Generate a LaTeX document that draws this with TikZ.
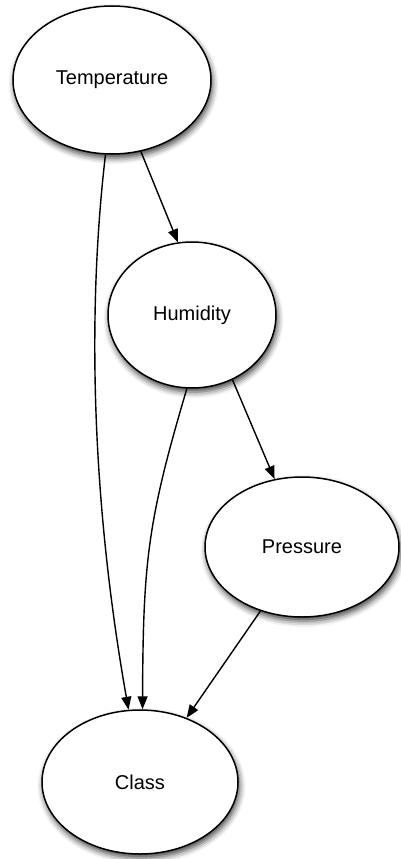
\documentclass[tikz,border=0pt]{standalone}
\usepackage{fontspec}
\setmainfont{Liberation Sans}
\usetikzlibrary{arrows.meta,shadows.blur,shapes.geometric}
\begin{document}
\begin{tikzpicture}[x=1pt,y=-1pt,
  var/.style={ellipse,draw=black,line width=1.5pt,fill=white,inner sep=0pt,
    blur shadow={shadow xshift=1.5pt,shadow yshift=-4pt,shadow blur radius=6pt,shadow opacity=75},
    font=\fontsize{20}{24}\selectfont},
  edge/.style={line width=1.4pt,-{Triangle[length=13pt,width=10pt]}}]
\useasboundingbox (0,0) rectangle (401,859);
\node[var,minimum width=198pt,minimum height=148pt] (temp) at (112,80) {Temperature};
\node[var,minimum width=168pt,minimum height=146pt] (hum) at (192,315) {Humidity};
\node[var,minimum width=194pt,minimum height=140pt] (pres) at (302,547) {Pressure};
\node[var,minimum width=196pt,minimum height=144pt] (cls) at (140,782) {Class};
\draw[edge] (temp.-68) -- (hum.101);
\draw[edge] (temp.-95.5) .. controls (85,330) and (95,520) .. (cls.99);
\draw[edge] (hum.-94) .. controls (148,520) and (143,560) .. (cls.88);
\draw[edge] (hum.-58) -- (pres.112.5);
\draw[edge] (pres.-123) -- (cls.54);
\end{tikzpicture}
\end{document}
